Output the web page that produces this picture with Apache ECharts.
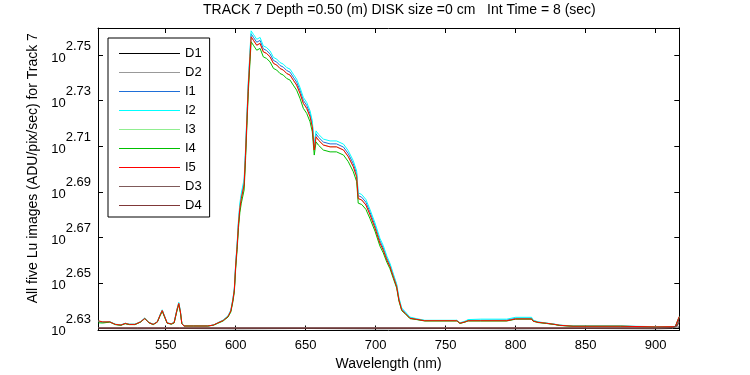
<!DOCTYPE html>
<html>
<head>
<meta charset="utf-8">
<script src="https://cdn.jsdelivr.net/npm/echarts@6/dist/echarts.min.js"></script>
<style>
html, body { margin: 0; padding: 0; background: #fff; }
#main { width: 750px; height: 375px; }
</style>
</head>
<body>
<div id="main"></div>
<script>
// wavelength (nm)
var wave = [502, 505, 510, 514, 518, 521, 524, 528, 532, 535, 538, 541, 544, 546, 547.5, 549, 551, 554, 556, 558,
    559.3, 560.5, 561.5, 563, 570, 580, 584, 587, 591, 594.5, 596.5, 598, 599, 600, 601, 602, 603, 604, 606, 607,
    608, 609, 610.2, 611, 612.6, 615, 617.4, 619.7, 622, 624.5, 627, 629.3, 631.6, 634, 636.4, 638.8, 641.1, 643.5, 645.9, 648.3,
    650.7, 653.1, 654.7, 656.1, 657.4, 659, 662.6, 667.4, 672, 677, 680.4, 684, 686.4, 687.5, 690, 693, 696, 699.5, 703, 705.4,
    708, 710.2, 712.6, 715, 716.6, 718.6, 721, 724.5, 729.3, 735, 758, 760.2, 763.8, 766, 775, 793.6, 800, 811.4, 812.4, 816,
    822, 828, 831.6, 841, 875, 900, 914, 916.8];

// log10 of Lu (ADU/pix/sec)
var i5Log = [2.6333, 2.6329, 2.6329, 2.6318, 2.6315, 2.6322, 2.6318, 2.6318, 2.6329, 2.6344, 2.6326, 2.6318, 2.6329, 2.6359, 2.6379, 2.6355, 2.6324, 2.6320, 2.6326, 2.6381,
    2.6410, 2.6372, 2.6322, 2.6311, 2.6311, 2.6311, 2.6315, 2.6324, 2.6335, 2.6353, 2.6377, 2.6425, 2.6469, 2.6578, 2.6660, 2.6760, 2.6830, 2.6870, 2.6930, 2.7060,
    2.7214, 2.7361, 2.7492, 2.7580, 2.7565, 2.7543, 2.7551, 2.7514, 2.7507, 2.7492, 2.7463, 2.7456, 2.7441, 2.7434, 2.7419, 2.7412, 2.7390, 2.7368, 2.7332, 2.7288,
    2.7266, 2.7229, 2.7185, 2.7083, 2.7141, 2.7127, 2.7105, 2.7097, 2.7097, 2.7083, 2.7054, 2.7010, 2.6966, 2.6870, 2.6864, 2.6842, 2.6798, 2.6741, 2.6675, 2.6644,
    2.6600, 2.6571, 2.6527, 2.6483, 2.6425, 2.6381, 2.6367, 2.6345, 2.6340, 2.6334, 2.6334, 2.6323, 2.6329, 2.6334, 2.6334, 2.6334, 2.6342, 2.6342, 2.6333, 2.6327,
    2.6323, 2.6318, 2.6314, 2.6310, 2.6310, 2.6307, 2.6308, 2.6352];
var i3Log = [2.6333, 2.6329, 2.6329, 2.6318, 2.6315, 2.6322, 2.6318, 2.6318, 2.6329, 2.6344, 2.6326, 2.6318, 2.6329, 2.6359, 2.6379, 2.6355, 2.6324, 2.6320, 2.6326, 2.6381,
    2.6410, 2.6372, 2.6322, 2.6311, 2.6311, 2.6311, 2.6315, 2.6324, 2.6335, 2.6353, 2.6377, 2.6425, 2.6469, 2.6578, 2.6660, 2.6760, 2.6830, 2.6870, 2.6930, 2.7060,
    2.7214, 2.7361, 2.7492, 2.7580, 2.7565, 2.7543, 2.7551, 2.7514, 2.7507, 2.7492, 2.7463, 2.7456, 2.7441, 2.7434, 2.7419, 2.7412, 2.7390, 2.7368, 2.7332, 2.7288,
    2.7266, 2.7229, 2.7185, 2.7083, 2.7141, 2.7127, 2.7105, 2.7097, 2.7097, 2.7083, 2.7054, 2.7010, 2.6966, 2.6870, 2.6864, 2.6842, 2.6798, 2.6741, 2.6675, 2.6644,
    2.6600, 2.6571, 2.6527, 2.6483, 2.6425, 2.6381, 2.6367, 2.6345, 2.6340, 2.6334, 2.6334, 2.6323, 2.6329, 2.6334, 2.6334, 2.6334, 2.6342, 2.6342, 2.6333, 2.6327,
    2.6323, 2.6318, 2.6314, 2.6310, 2.6310, 2.6307, 2.6308, 2.6352];
var i1Log = [2.6331, 2.6327, 2.6329, 2.6318, 2.6315, 2.6323, 2.6318, 2.6318, 2.6329, 2.6345, 2.6326, 2.6318, 2.6329, 2.6360, 2.6380, 2.6356, 2.6324, 2.6320, 2.6327, 2.6382,
    2.6412, 2.6373, 2.6322, 2.6311, 2.6311, 2.6311, 2.6315, 2.6324, 2.6336, 2.6354, 2.6379, 2.6428, 2.6473, 2.6583, 2.6666, 2.6768, 2.6839, 2.6880, 2.6941, 2.7072,
    2.7227, 2.7374, 2.7505, 2.7593, 2.7578, 2.7556, 2.7564, 2.7527, 2.7520, 2.7505, 2.7476, 2.7469, 2.7454, 2.7447, 2.7432, 2.7425, 2.7403, 2.7381, 2.7345, 2.7301,
    2.7279, 2.7242, 2.7198, 2.7096, 2.7154, 2.7140, 2.7118, 2.7110, 2.7110, 2.7096, 2.7067, 2.7023, 2.6979, 2.6883, 2.6876, 2.6854, 2.6809, 2.6752, 2.6685, 2.6653,
    2.6608, 2.6578, 2.6533, 2.6488, 2.6429, 2.6385, 2.6370, 2.6347, 2.6341, 2.6335, 2.6335, 2.6324, 2.6330, 2.6336, 2.6336, 2.6337, 2.6345, 2.6345, 2.6335, 2.6328,
    2.6323, 2.6318, 2.6314, 2.6310, 2.6310, 2.6307, 2.6308, 2.6350];
var i2Log = [2.6332, 2.6329, 2.6330, 2.6319, 2.6316, 2.6323, 2.6319, 2.6319, 2.6330, 2.6346, 2.6327, 2.6319, 2.6330, 2.6361, 2.6382, 2.6357, 2.6325, 2.6321, 2.6328, 2.6384,
    2.6415, 2.6375, 2.6323, 2.6311, 2.6311, 2.6311, 2.6315, 2.6325, 2.6337, 2.6356, 2.6381, 2.6431, 2.6477, 2.6590, 2.6675, 2.6780, 2.6852, 2.6894, 2.6956, 2.7086,
    2.7240, 2.7387, 2.7518, 2.7606, 2.7591, 2.7569, 2.7577, 2.7540, 2.7533, 2.7518, 2.7489, 2.7482, 2.7467, 2.7460, 2.7445, 2.7438, 2.7416, 2.7394, 2.7358, 2.7314,
    2.7292, 2.7255, 2.7211, 2.7109, 2.7167, 2.7153, 2.7131, 2.7123, 2.7123, 2.7109, 2.7080, 2.7036, 2.6991, 2.6895, 2.6888, 2.6866, 2.6821, 2.6763, 2.6696, 2.6664,
    2.6617, 2.6586, 2.6540, 2.6495, 2.6435, 2.6390, 2.6374, 2.6350, 2.6343, 2.6336, 2.6336, 2.6325, 2.6332, 2.6339, 2.6341, 2.6341, 2.6349, 2.6349, 2.6337, 2.6329,
    2.6324, 2.6319, 2.6315, 2.6311, 2.6311, 2.6308, 2.6309, 2.6351];
var i4Log = [2.6325, 2.6324, 2.6328, 2.6317, 2.6314, 2.6321, 2.6317, 2.6317, 2.6328, 2.6343, 2.6325, 2.6317, 2.6328, 2.6356, 2.6375, 2.6352, 2.6323, 2.6319, 2.6324, 2.6377,
    2.6405, 2.6368, 2.6321, 2.6311, 2.6311, 2.6311, 2.6314, 2.6322, 2.6333, 2.6350, 2.6372, 2.6418, 2.6460, 2.6565, 2.6646, 2.6743, 2.6811, 2.6850, 2.6908, 2.7037,
    2.7192, 2.7339, 2.7470, 2.7558, 2.7543, 2.7521, 2.7529, 2.7492, 2.7485, 2.7470, 2.7441, 2.7434, 2.7419, 2.7412, 2.7397, 2.7390, 2.7368, 2.7346, 2.7310, 2.7266,
    2.7244, 2.7207, 2.7163, 2.7061, 2.7119, 2.7105, 2.7083, 2.7075, 2.7075, 2.7061, 2.7032, 2.6988, 2.6945, 2.6850, 2.6844, 2.6823, 2.6781, 2.6727, 2.6662, 2.6632,
    2.6590, 2.6562, 2.6519, 2.6477, 2.6420, 2.6378, 2.6365, 2.6343, 2.6339, 2.6333, 2.6333, 2.6322, 2.6328, 2.6333, 2.6333, 2.6333, 2.6341, 2.6341, 2.6332, 2.6326,
    2.6322, 2.6317, 2.6313, 2.6310, 2.6310, 2.6306, 2.6307, 2.6348];

// dark images sit at the bottom of the axes
var darkWave = [502, 530, 560, 600, 650, 700, 750, 800, 850, 900, 912, 915.5, 916.8];
var d1Log = [2.6300, 2.6299, 2.6300, 2.6299, 2.6300, 2.6299, 2.6300, 2.6299, 2.6300, 2.6299, 2.6300, 2.6301, 2.6303];
var d2Log = [2.6304, 2.6304, 2.6304, 2.6304, 2.6304, 2.6304, 2.6304, 2.6304, 2.6304, 2.6304, 2.6304, 2.6306, 2.6310];
var d3Log = [2.6302, 2.6302, 2.6302, 2.6302, 2.6302, 2.6302, 2.6302, 2.6302, 2.6302, 2.6302, 2.6303, 2.6310, 2.6330];
var d4Log = [2.6302, 2.6302, 2.6302, 2.6302, 2.6302, 2.6302, 2.6302, 2.6302, 2.6302, 2.6302, 2.6304, 2.6315, 2.6345];

var xTicks = [550, 600, 650, 700, 750, 800, 850, 900];
var yTicks = [2.63, 2.65, 2.67, 2.69, 2.71, 2.73, 2.75];

var names = ['D1', 'D2', 'I1', 'I2', 'I3', 'I4', 'I5', 'D3', 'D4'];
var colors = ['#000000', '#999999', '#1f6fd8', '#00ffff', '#90ee90', '#00c000', '#ff0000', '#7f5a5a', '#803838'];

function pairs(xs, ys) {
    var out = [];
    for (var i = 0; i < xs.length; i++) out.push([xs[i], ys[i]]);
    return out;
}

var seriesData = {
    D1: pairs(darkWave, d1Log), D2: pairs(darkWave, d2Log),
    I1: pairs(wave, i1Log), I2: pairs(wave, i2Log), I3: pairs(wave, i3Log),
    I4: pairs(wave, i4Log), I5: pairs(wave, i5Log),
    D3: pairs(darkWave, d3Log), D4: pairs(darkWave, d4Log)
};

var font = 'Liberation Sans, Arial, sans-serif';
var chart = echarts.init(document.getElementById('main'), null, { renderer: 'canvas' });

var xMin = 501.6, xMax = 916.9;
var yMin = 2.62912, yMax = 2.76185;

var option = {
    animation: false,
    backgroundColor: '#fff',
    title: {
        text: 'TRACK 7 Depth =0.50 (m) DISK size =0 cm   Int Time = 8 (sec)',
        left: 203, top: 3, padding: 0,
        textStyle: { fontFamily: font, fontSize: 14, fontWeight: 'normal', color: '#000' }
    },
    legend: {
        data: names,
        orient: 'vertical',
        left: 108, top: 38,
        icon: 'rect',
        itemWidth: 61, itemHeight: 1,
        itemGap: 6,
        padding: [9, 8, 5, 11],
        borderColor: '#000', borderWidth: 1,
        backgroundColor: '#fff',
        textStyle: { fontFamily: font, fontSize: 13, lineHeight: 13, color: '#000' }
    },
    grid: { left: 98, right: 70.7, top: 28, bottom: 44.5, outerBoundsMode: 'none', containLabel: false },
    xAxis: [{
        type: 'value', min: xMin, max: xMax,
        name: 'Wavelength (nm)', nameLocation: 'middle', nameGap: 27,
        nameTextStyle: { fontFamily: font, fontSize: 14, color: '#000' },
        axisLine: { lineStyle: { color: '#000', width: 1 } },
        axisTick: { inside: true, length: 5, lineStyle: { color: '#000' }, customValues: xTicks },
        axisLabel: { fontFamily: font, fontSize: 13, color: '#000', margin: 8, customValues: xTicks },
        splitLine: { show: false }
    }, {
        type: 'value', min: xMin, max: xMax, position: 'top',
        axisLine: { lineStyle: { color: '#000', width: 1 } },
        axisTick: { inside: true, length: 5, lineStyle: { color: '#000' }, customValues: xTicks },
        axisLabel: { show: false },
        splitLine: { show: false }
    }],
    yAxis: [{
        type: 'value', min: yMin, max: yMax,
        name: 'All five Lu images (ADU/pix/sec) for Track 7', nameLocation: 'middle', nameGap: 57,
        nameTextStyle: { fontFamily: font, fontSize: 14, color: '#000', padding: [0, 0, 0, 22] },
        axisLine: { lineStyle: { color: '#000', width: 1 } },
        axisTick: { inside: true, length: 5, lineStyle: { color: '#000' }, customValues: yTicks },
        axisLabel: {
            customValues: yTicks, margin: 7,
            padding: [0, 0, 6, 0],
            formatter: function (v) { return '{b|10}{s|' + v.toFixed(2) + '}'; },
            rich: {
                b: { fontFamily: font, fontSize: 13, color: '#000', lineHeight: 25, verticalAlign: 'bottom' },
                s: { fontFamily: font, fontSize: 13, color: '#000', lineHeight: 25, verticalAlign: 'top' }
            }
        },
        splitLine: { show: false }
    }, {
        type: 'value', min: yMin, max: yMax, position: 'right',
        axisLine: { lineStyle: { color: '#000', width: 1 } },
        axisTick: { inside: true, length: 5, lineStyle: { color: '#000' }, customValues: yTicks },
        axisLabel: { show: false },
        splitLine: { show: false }
    }],
    series: names.map(function (n, k) {
        return {
            name: n, type: 'line', data: seriesData[n],
            xAxisIndex: 0, yAxisIndex: 0,
            showSymbol: false, symbol: 'none',
            color: colors[k],
            lineStyle: { width: 1, color: colors[k] },
            emphasis: { disabled: true }
        };
    })
};

chart.setOption(option);
</script>
</body>
</html>
